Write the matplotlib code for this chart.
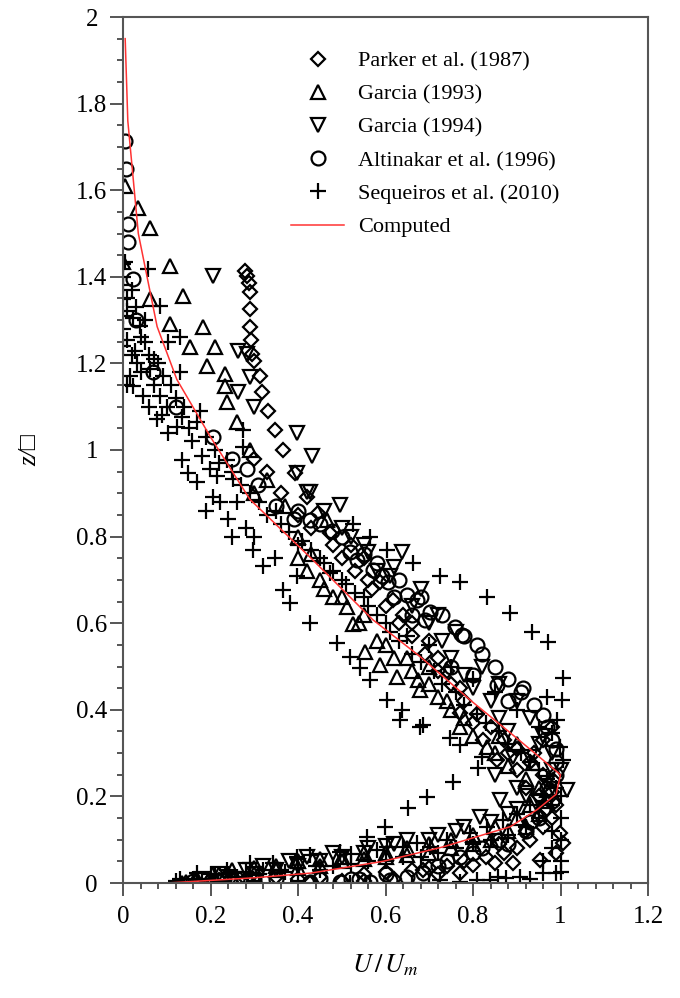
import numpy as np
import matplotlib
matplotlib.use('Agg')
import matplotlib.pyplot as plt
from matplotlib.ticker import MultipleLocator, FuncFormatter

plt.rcParams['font.family'] = ['Liberation Serif', 'DejaVu Sans']
plt.rcParams['mathtext.fontset'] = 'stix'

# Parker et al. (1987) - diamonds
parker_x = [0.279, 0.283, 0.287, 0.290, 0.290, 0.290, 0.293, 0.295, 0.300, 0.313, 0.318, 0.331,
            0.347, 0.366, 0.393, 0.420, 0.446, 0.473, 0.430, 0.400, 0.360, 0.330, 0.300, 0.520,
            0.550, 0.587, 0.617, 0.560, 0.640, 0.660, 0.700, 0.720, 0.740, 0.770, 0.770, 0.800,
            0.823, 0.855, 0.880, 0.900, 0.920, 0.950, 0.983, 0.970, 0.999, 1.006, 0.990, 0.953,
            0.891, 0.850, 0.800, 0.770, 0.720, 0.686, 0.620, 0.550, 0.500, 0.427, 0.350, 0.280,
            0.220, 0.860, 0.920, 0.940, 0.960, 0.980,
            0.480, 0.500, 0.530, 0.570, 0.600, 0.630, 0.660, 0.690, 0.720, 0.750, 0.780, 0.810,
            0.840, 0.870, 0.900, 0.930, 0.960, 0.980, 0.990, 0.980, 0.960, 0.930, 0.900, 0.870,
            0.830, 0.780, 0.740, 0.700, 0.660, 0.600, 0.550, 0.450, 0.400]
parker_y = [1.413, 1.401, 1.385, 1.366, 1.325, 1.283, 1.255, 1.221, 1.205, 1.170, 1.133, 1.090,
            1.047, 1.000, 0.948, 0.892, 0.855, 0.809, 0.820, 0.850, 0.900, 0.950, 0.980, 0.780,
            0.750, 0.694, 0.654, 0.700, 0.620, 0.600, 0.560, 0.520, 0.490, 0.450, 0.393, 0.370,
            0.331, 0.284, 0.300, 0.260, 0.220, 0.200, 0.238, 0.170, 0.116, 0.092, 0.069, 0.053,
            0.046, 0.046, 0.042, 0.023, 0.020, 0.030, 0.010, 0.005, 0.005, 0.000, 0.015, 0.010,
            0.008, 0.090, 0.120, 0.300, 0.330, 0.360,
            0.780, 0.750, 0.720, 0.680, 0.640, 0.600, 0.570, 0.530, 0.490, 0.460, 0.420, 0.390,
            0.360, 0.330, 0.310, 0.280, 0.250, 0.210, 0.180, 0.150, 0.130, 0.100, 0.080, 0.070,
            0.060, 0.050, 0.040, 0.035, 0.030, 0.025, 0.020, 0.015, 0.010]

# Garcia (1993) - triangles
g93_x = [0.005, 0.034, 0.062, 0.000, 0.107, 0.137, 0.062, 0.183, 0.107, 0.153, 0.210, 0.192,
         0.233, 0.233, 0.238, 0.260, 0.290, 0.330, 0.370, 0.300, 0.400, 0.430, 0.466, 0.450,
         0.480, 0.512, 0.526, 0.553, 0.587, 0.626, 0.674, 0.679, 0.700, 0.720, 0.750, 0.780,
         0.832, 0.860, 0.900, 0.937, 0.969, 0.950, 0.920, 0.880, 0.840, 0.800, 0.750, 0.700,
         0.650, 0.600, 0.550, 0.500, 0.450, 0.400, 0.350, 0.300, 0.250, 0.200, 0.135, 0.145,
         0.200, 0.160, 0.600, 0.550, 0.650,
         0.400, 0.420, 0.460, 0.500, 0.540, 0.580, 0.620, 0.660, 0.700, 0.740, 0.770, 0.800,
         0.850, 0.880, 0.920, 0.950, 0.970, 0.930, 0.900, 0.850, 0.800, 0.750, 0.700, 0.650,
         0.600, 0.550, 0.500, 0.450, 0.400, 0.350, 0.300, 0.250, 0.220, 0.170]
g93_y = [1.609, 1.558, 1.512, 1.434, 1.424, 1.355, 1.348, 1.283, 1.290, 1.239, 1.237, 1.193,
         1.175, 1.147, 1.112, 1.064, 1.000, 0.930, 0.870, 0.900, 0.800, 0.760, 0.839, 0.700,
         0.660, 0.638, 0.597, 0.534, 0.504, 0.476, 0.469, 0.446, 0.500, 0.430, 0.400, 0.380,
         0.314, 0.340, 0.320, 0.277, 0.215, 0.160, 0.130, 0.120, 0.100, 0.090, 0.080, 0.070,
         0.065, 0.060, 0.055, 0.050, 0.040, 0.035, 0.030, 0.020, 0.015, 0.008, 0.000, 0.003,
         0.000, 0.000, 0.550, 0.620, 0.520,
         0.750, 0.720, 0.680, 0.660, 0.600, 0.560, 0.520, 0.490, 0.460, 0.420, 0.360, 0.340,
         0.300, 0.270, 0.240, 0.220, 0.190, 0.180, 0.150, 0.130, 0.110, 0.100, 0.090, 0.080,
         0.070, 0.070, 0.060, 0.055, 0.050, 0.040, 0.035, 0.030, 0.020, 0.010]

# Garcia (1994) - inverted triangles
g94_x = [0.206, 0.263, 0.283, 0.290, 0.263, 0.300, 0.398, 0.432, 0.398, 0.420, 0.496, 0.427,
         0.460, 0.500, 0.560, 0.638, 0.610, 0.580, 0.660, 0.700, 0.730, 0.750, 0.780, 0.800,
         0.840, 0.860, 0.880, 0.891, 0.930, 0.950, 1.015, 0.980, 0.950, 0.862, 0.900, 0.816,
         0.780, 0.720, 0.650, 0.600, 0.550, 0.500, 0.450, 0.400, 0.350, 0.300, 0.250, 0.850,
         0.900,
         0.520, 0.550, 0.620, 0.680, 0.720, 0.760, 0.820, 0.860, 0.900, 0.930, 0.960, 0.980,
         1.000, 0.970, 0.920, 0.880, 0.840, 0.760, 0.700, 0.620, 0.560, 0.480, 0.420, 0.380,
         0.320, 0.280, 0.220, 0.180]
g94_y = [1.401, 1.228, 1.221, 1.168, 1.133, 1.100, 1.040, 0.985, 0.948, 0.902, 0.874, 0.902,
         0.860, 0.820, 0.765, 0.765, 0.708, 0.720, 0.640, 0.600, 0.560, 0.520, 0.480, 0.450,
         0.420, 0.380, 0.350, 0.291, 0.291, 0.320, 0.215, 0.260, 0.190, 0.192, 0.170, 0.153,
         0.130, 0.110, 0.100, 0.085, 0.070, 0.060, 0.050, 0.040, 0.030, 0.020, 0.010, 0.250,
         0.220,
         0.800, 0.780, 0.730, 0.680, 0.620, 0.580, 0.500, 0.460, 0.420, 0.380, 0.340, 0.300,
         0.260, 0.230, 0.200, 0.160, 0.140, 0.120, 0.100, 0.090, 0.080, 0.070, 0.060, 0.050,
         0.040, 0.030, 0.020, 0.010]

# Altinakar et al. (1996) - circles
alt_x = [0.005, 0.007, 0.012, 0.012, 0.023, 0.030, 0.069, 0.120, 0.206, 0.250, 0.283, 0.309,
         0.350, 0.390, 0.427, 0.478, 0.519, 0.535, 0.571, 0.592, 0.606, 0.649, 0.672, 0.702,
         0.690, 0.759, 0.775, 0.809, 0.620, 0.660, 0.750, 0.800, 0.855, 0.914, 0.880, 0.960,
         0.980, 0.990, 0.970, 0.950, 0.920, 0.880, 0.686, 0.649, 0.610, 0.565, 0.496, 0.427,
         0.520, 0.350, 0.260, 0.200, 0.800, 0.740,
         0.400, 0.450, 0.500, 0.550, 0.580, 0.630, 0.680, 0.730, 0.780, 0.820, 0.850, 0.880,
         0.910, 0.940, 0.970, 0.990, 0.990, 0.980, 0.960, 0.930, 0.860, 0.820, 0.770, 0.720,
         0.600, 0.540, 0.450, 0.300, 0.230, 0.160]
alt_y = [1.713, 1.649, 1.521, 1.480, 1.394, 1.300, 1.179, 1.100, 1.031, 0.980, 0.955, 0.920,
         0.870, 0.840, 0.839, 0.812, 0.765, 0.747, 0.724, 0.708, 0.696, 0.666, 0.654, 0.627,
         0.608, 0.592, 0.573, 0.550, 0.660, 0.620, 0.500, 0.480, 0.458, 0.451, 0.420, 0.388,
         0.330, 0.280, 0.220, 0.150, 0.120, 0.090, 0.023, 0.014, 0.007, 0.002, 0.002, 0.002,
         0.010, 0.010, 0.010, 0.005, 0.070, 0.050,
         0.860, 0.830, 0.800, 0.760, 0.740, 0.700, 0.660, 0.620, 0.570, 0.530, 0.500, 0.470,
         0.440, 0.410, 0.360, 0.310, 0.250, 0.190, 0.170, 0.140, 0.100, 0.080, 0.060, 0.040,
         0.020, 0.010, 0.010, 0.010, 0.010, 0.005]

# Sequeiros et al. (2010) - plus
seq_x = [0.000, 0.005, 0.057, 0.000, 0.020, 0.000, 0.085, 0.000, 0.023, 0.000, 0.039, 0.130,
         0.009, 0.027, 0.103, 0.032, 0.062, 0.023, 0.046, 0.085, 0.091, 0.130, 0.078, 0.103,
         0.135, 0.176, 0.123, 0.169, 0.135, 0.158, 0.181, 0.149, 0.169, 0.199, 0.215, 0.206,
         0.222, 0.260, 0.251, 0.238, 0.274, 0.274, 0.010, 0.040, 0.060, 0.015, 0.100, 0.070,
         0.190, 0.240, 0.280, 0.300, 0.250, 0.297, 0.320, 0.347, 0.366, 0.382, 0.398, 0.427,
         0.473, 0.489, 0.519, 0.542, 0.565, 0.603, 0.638, 0.633, 0.679, 0.747, 0.770,
         0.526, 0.565, 0.603, 0.663, 0.725, 0.770, 0.832, 0.885, 0.935, 0.971, 1.006,
         0.350, 0.400, 0.450, 0.500, 0.550, 0.600, 0.650, 0.700, 0.750, 0.800, 0.850, 0.900,
         0.950, 0.992, 0.999, 1.006, 0.969, 0.981, 1.003, 1.000, 1.000, 0.980,
         0.754, 0.811, 0.686, 0.821, 0.695, 0.651, 0.599, 0.558,
         0.169, 0.238, 0.290, 0.343, 0.398, 0.427, 0.496, 0.520, 0.581, 0.603, 0.640, 0.672,
         0.702, 0.741, 0.793, 0.832, 0.869, 0.900, 0.930, 0.960,
         0.519, 0.565, 0.725, 0.809, 0.839, 0.857, 0.875, 0.907, 0.960, 0.990, 1.000, 0.120,
         0.180, 0.210, 0.260, 0.310, 0.370, 0.450, 0.400,
         0.000, 0.010, 0.030, 0.050, 0.000, 0.020, 0.050, 0.070, 0.040, 0.010, 0.080, 0.110,
         0.120, 0.140, 0.060, 0.090, 0.150, 0.190, 0.210, 0.220, 0.250, 0.270, 0.290, 0.310,
         0.330, 0.360, 0.380, 0.410, 0.430, 0.460, 0.480, 0.510, 0.530, 0.560, 0.580, 0.610,
         0.630, 0.660, 0.680, 0.710, 0.730, 0.760, 0.780, 0.810, 0.830, 0.860, 0.880, 0.910,
         0.930, 0.950, 0.970, 0.990, 0.980, 0.950, 0.920, 0.880, 0.840, 0.800, 0.760, 0.720,
         0.680, 0.640, 0.600, 0.560, 0.520, 0.480, 0.440, 0.400, 0.360, 0.320, 0.280, 0.240,
         0.200, 0.160, 0.130, 0.660, 0.700, 0.770, 0.930, 1.000, 1.000, 0.980, 0.960]
seq_y = [1.430, 1.434, 1.417, 1.400, 1.370, 1.348, 1.332, 1.309, 1.306, 1.279, 1.286, 1.262,
         1.255, 1.228, 1.249, 1.202, 1.186, 1.147, 1.124, 1.124, 1.170, 1.179, 1.071, 1.040,
         1.077, 1.089, 1.054, 1.064, 0.978, 1.020, 0.985, 0.948, 0.925, 0.955, 0.939, 0.892,
         0.879, 0.879, 0.932, 0.978, 1.008, 1.047, 1.320, 1.260, 1.220, 1.170, 1.100, 1.150,
         0.860, 0.840, 0.820, 0.800, 0.800, 0.770, 0.731, 0.751, 0.677, 0.647, 0.708, 0.601,
         0.717, 0.555, 0.523, 0.497, 0.469, 0.423, 0.400, 0.377, 0.361, 0.335, 0.319,
         0.828, 0.800, 0.770, 0.740, 0.708, 0.694, 0.661, 0.624, 0.580, 0.557, 0.474,
         0.860, 0.780, 0.750, 0.700, 0.660, 0.600, 0.570, 0.550, 0.500, 0.470, 0.440, 0.400,
         0.360, 0.377, 0.314, 0.285, 0.430, 0.347, 0.423, 0.200, 0.150, 0.120,
         0.234, 0.266, 0.365, 0.291, 0.199, 0.173, 0.130, 0.106,
         0.023, 0.030, 0.046, 0.046, 0.060, 0.065, 0.072, 0.068, 0.076, 0.083, 0.083, 0.092,
         0.083, 0.099, 0.116, 0.130, 0.146, 0.160, 0.180, 0.190,
         0.000, 0.000, 0.007, 0.007, 0.007, 0.015, 0.012, 0.014, 0.023, 0.023, 0.025, 0.005,
         0.010, 0.020, 0.015, 0.020, 0.025, 0.030, 0.005,
         1.380, 1.350, 1.330, 1.300, 1.240, 1.220, 1.250, 1.210, 1.180, 1.150, 1.200, 1.150,
         1.120, 1.100, 1.100, 1.080, 1.050, 1.030, 1.000, 0.970, 0.950, 0.920, 0.900, 0.880,
         0.850, 0.830, 0.810, 0.790, 0.770, 0.740, 0.720, 0.690, 0.670, 0.640, 0.620, 0.580,
         0.560, 0.530, 0.510, 0.490, 0.460, 0.440, 0.410, 0.390, 0.370, 0.350, 0.320, 0.300,
         0.280, 0.260, 0.240, 0.220, 0.180, 0.150, 0.130, 0.110, 0.100, 0.090, 0.080, 0.070,
         0.060, 0.060, 0.050, 0.050, 0.045, 0.040, 0.040, 0.035, 0.030, 0.030, 0.025, 0.020,
         0.020, 0.010, 0.010, 0.000, 0.000, 0.003, 0.010, 0.050, 0.100, 0.080, 0.050]

# Computed profile
comp_x = [0.0, 0.10, 0.20, 0.30, 0.43, 0.594, 0.73, 0.885, 0.946, 0.99, 1.0, 0.96, 0.885,
          0.793, 0.679, 0.571, 0.43, 0.29, 0.20, 0.123, 0.078, 0.035, 0.011, 0.005]
comp_y = [0.0, 0.0, 0.006, 0.012, 0.023, 0.05, 0.083, 0.13, 0.169, 0.205, 0.25, 0.284, 0.347,
          0.423, 0.523, 0.608, 0.75, 0.886, 1.03, 1.163, 1.285, 1.5, 1.76, 1.95]

fig = plt.figure(figsize=(6.8, 9.98), dpi=100)
ax = fig.add_axes([123/680, 115/998, 525/680, 866/998])

mk = dict(linestyle='none', mfc='none', mec='black', mew=1.6)
ax.plot(parker_x, parker_y, marker='D', ms=7, label='Parker et al. (1987)', **mk)
ax.plot(g93_x, g93_y, marker='^', ms=10, label='Garcia (1993)', **mk)
ax.plot(g94_x, g94_y, marker='v', ms=10, label='Garcia (1994)', **mk)
ax.plot(alt_x, alt_y, marker='o', ms=10, label='Altinakar et al. (1996)', **mk)
ax.plot(seq_x, seq_y, marker='+', ms=11, label='Sequeiros et al. (2010)', **mk)
ax.plot(comp_x, comp_y, color='#ff3333', lw=1.1, label='Computed')

ax.set_xlim(0, 1.2)
ax.set_ylim(0, 2)
ax.xaxis.set_major_locator(MultipleLocator(0.2))
ax.xaxis.set_minor_locator(MultipleLocator(0.04))
ax.yaxis.set_major_locator(MultipleLocator(0.2))
ax.yaxis.set_minor_locator(MultipleLocator(0.05))
fmt = FuncFormatter(lambda v, p: '%g' % round(v, 2))
ax.xaxis.set_major_formatter(fmt)
ax.yaxis.set_major_formatter(fmt)

for s in ax.spines.values():
    s.set_color('#555555')
    s.set_linewidth(1.5)
ax.tick_params(which='both', direction='out', color='#555555', width=1.4,
               top=False, right=False, labelsize=18)
ax.tick_params(which='major', length=9.5)
ax.tick_params(which='minor', length=4)
ax.tick_params(axis='x', which='major', pad=7)
ax.tick_params(axis='y', which='major', pad=13)
for lab in ax.get_yticklabels():
    lab.set_horizontalalignment('center')

lgd = ax.legend(loc='upper left', bbox_to_anchor=(0.32, 0.961), frameon=False,
                fontsize=16, numpoints=1, handlelength=2.4, handletextpad=0.6,
                labelspacing=0.57, borderpad=0, borderaxespad=0)

fig.text(385/680, 1 - 965/998, r'$U\,/\,U_{m}$', ha='center', va='center', fontsize=19)
fig.text(30/680, 1 - 450/998, 'z/\u25a1', rotation=90, ha='center', va='center',
         fontsize=18, style='italic')

fig.savefig('out.png', dpi=100)
